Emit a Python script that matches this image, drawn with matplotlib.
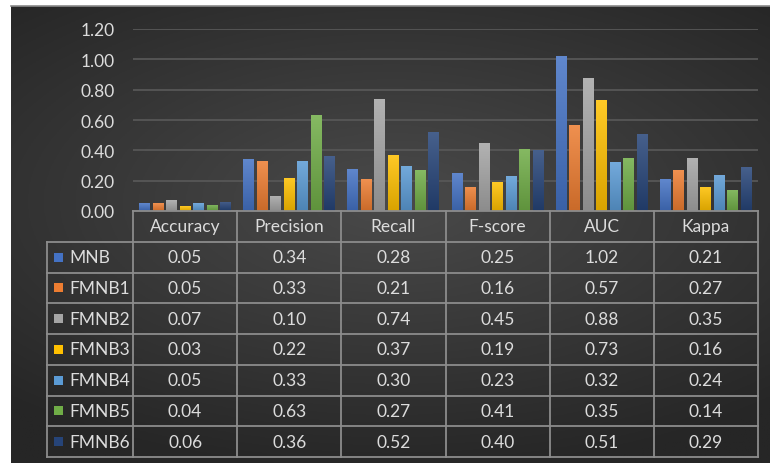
import numpy as np
import matplotlib
matplotlib.use('Agg')
import matplotlib.pyplot as plt
from matplotlib.colors import to_rgb
from matplotlib.patches import Rectangle

categories = ['Accuracy', 'Precision', 'Recall', 'F-score', 'AUC', 'Kappa']
series_names = ['MNB', 'FMNB1', 'FMNB2', 'FMNB3', 'FMNB4', 'FMNB5', 'FMNB6']
mnb = [0.05, 0.34, 0.28, 0.25, 1.02, 0.21]
fmnb1 = [0.05, 0.33, 0.21, 0.16, 0.57, 0.27]
fmnb2 = [0.07, 0.10, 0.74, 0.45, 0.88, 0.35]
fmnb3 = [0.03, 0.22, 0.37, 0.19, 0.73, 0.16]
fmnb4 = [0.05, 0.33, 0.30, 0.23, 0.32, 0.24]
fmnb5 = [0.04, 0.63, 0.27, 0.41, 0.35, 0.14]
fmnb6 = [0.06, 0.36, 0.52, 0.40, 0.51, 0.29]
series_values = [mnb, fmnb1, fmnb2, fmnb3, fmnb4, fmnb5, fmnb6]
colors = ['#4472C4', '#ED7D31', '#A5A5A5', '#FFC000', '#5B9BD5', '#70AD47', '#264478']
yticks = [0.0, 0.2, 0.4, 0.6, 0.8, 1.0, 1.2]

plt.rcParams['font.family'] = ['Lato', 'DejaVu Sans']
TXT = '#dcdcdc'
LINE = '#8c8c8c'
FS = 12.5

W, H = 770, 464
fig = plt.figure(figsize=(W / 100, H / 100), dpi=100, facecolor='white')

# background with radial gradient
bg = fig.add_axes([11 / W, 0, (W - 11) / W, (H - 7) / H])
bg.set_zorder(-5)
yy, xx = np.mgrid[0:200, 0:300]
cx, cy = 150, 85
r = np.sqrt(((xx - cx) / 300) ** 2 + ((yy - cy) / 160) ** 2)
r = np.clip(r / 0.75, 0, 1)
c0, c1 = 0x4a / 255, 0x26 / 255
val = c0 + (c1 - c0) * r
img = np.dstack([val, val, val])
bg.imshow(img, extent=[0, 1, 0, 1], aspect='auto', origin='upper')
bg.set_xlim(0, 1)
bg.set_ylim(0, 1)
bg.axis('off')
fig.add_artist(plt.Line2D([11 / W, 1], [1 - 6.5 / H, 1 - 6.5 / H], color='#8a8a8a', lw=1.2))

# main bar axes
px_per_cat = 625 / 6.0
ax = fig.add_axes([133 / W, 1 - 212 / H, 625 / W, (212 - 30) / H])
ax.set_facecolor('none')
ax.set_xlim(-0.5, 5.5)
ax.set_ylim(0, 1.2)
pitch = 13.5 / px_per_cat
bw = 11 / px_per_cat
x = np.arange(len(categories))
for j, (vals, c) in enumerate(zip(series_values, colors)):
    bars = ax.bar(x + (j - 3) * pitch, vals, width=bw, color=c, zorder=3)
    rgb = np.array(to_rgb(c))
    top = rgb + (1 - rgb) * 0.15
    bot = rgb * 0.85
    for b in bars:
        g = np.linspace(0, 1, 64).reshape(-1, 1, 1)
        grad = top * (1 - g) + bot * g
        im = ax.imshow(grad, extent=[b.get_x(), b.get_x() + b.get_width(), 0, b.get_height()],
                       aspect='auto', origin='upper', zorder=4)
        im.set_clip_path(b)
ax.set_xlim(-0.5, 5.5)
ax.set_ylim(0, 1.2)
ax.set_aspect('auto')
ax.set_yticks(yticks)
ax.set_yticklabels(['%.2f' % t for t in yticks], color=TXT, fontsize=FS)
ax.set_xticks([])
ax.tick_params(axis='y', length=0, pad=13)
ax.yaxis.grid(True, color='#575757', lw=1.3, zorder=0)
ax.set_axisbelow(True)
for s in ax.spines.values():
    s.set_visible(False)

# data table
tax = fig.add_axes([47 / W, 1 - 458 / H, (758 - 47) / W, (458 - 212) / H])
tax.set_facecolor('none')
xmin = -0.5 - 86 / px_per_cat
tax.set_xlim(xmin, 5.5)
tax.set_ylim(8, 0)
tax.axis('off')
lk = dict(color=LINE, lw=1.3, clip_on=False, solid_capstyle='projecting')
tax.plot([-0.5, 5.5], [0, 0], **lk)
for r_ in range(1, 9):
    tax.plot([xmin, 5.5], [r_, r_], **lk)
tax.plot([xmin, xmin], [1, 8], **lk)
for k in range(7):
    tax.plot([k - 0.5, k - 0.5], [0, 8], **lk)
for i, cat in enumerate(categories):
    tax.text(i, 0.5, cat, ha='center', va='center', color=TXT, fontsize=FS)
row_h_px = 246 / 8
for j, (name, vals, c) in enumerate(zip(series_names, series_values, colors)):
    yc = j + 1.5
    sq_w = 9 / px_per_cat
    sq_h = 9 / row_h_px
    tax.add_patch(Rectangle((xmin + 7 / px_per_cat, yc - sq_h / 2), sq_w, sq_h,
                            facecolor=c, edgecolor='none', clip_on=False))
    tax.text(xmin + 22 / px_per_cat, yc, name, ha='left', va='center', color=TXT, fontsize=FS)
    for i, v in enumerate(vals):
        tax.text(i, yc, '%.2f' % v, ha='center', va='center', color=TXT, fontsize=FS)

fig.savefig('out.png', dpi=100, facecolor='white')
